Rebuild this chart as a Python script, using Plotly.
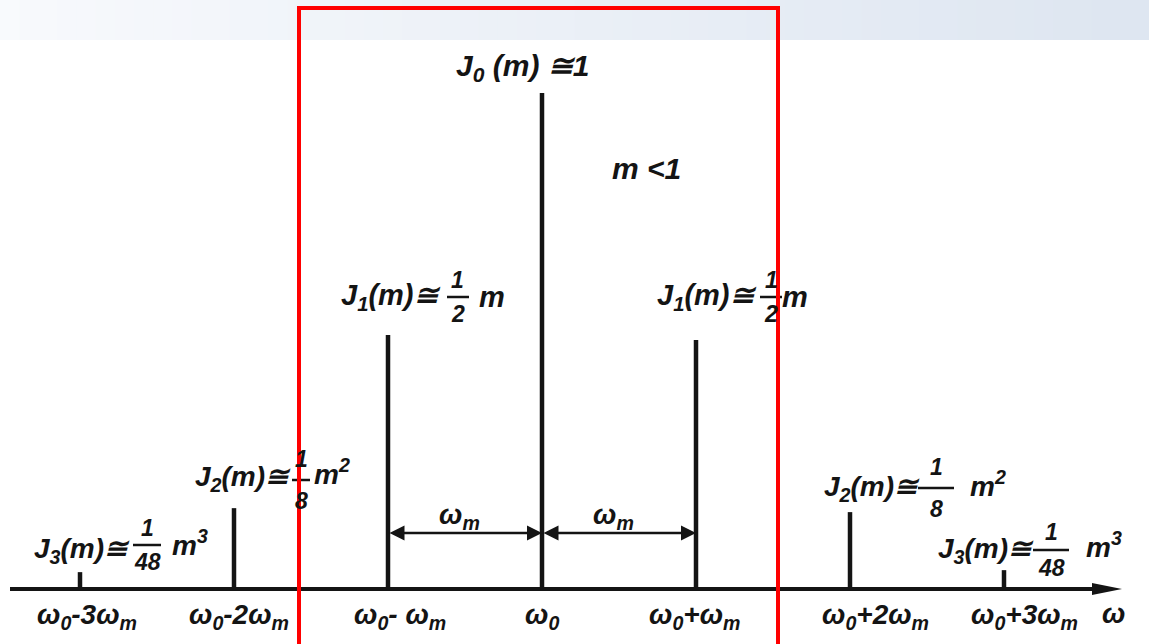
import plotly.graph_objects as go

# spectrum of narrow-band FM (m < 1): harmonic index k -> amplitude relative to J0
harmonic = [-3, -2, -1, 0, 1, 2, 3]
amplitude = [0.034, 0.163, 0.512, 1.0, 0.502, 0.155, 0.038]
tick_text = ["ω<sub>0</sub>-3ω<sub>m</sub>", "ω<sub>0</sub>-2ω<sub>m</sub>", "ω<sub>0</sub>- ω<sub>m</sub>",
             "ω<sub>0</sub>", "ω<sub>0</sub>+ω<sub>m</sub>", "ω<sub>0</sub>+2ω<sub>m</sub>",
             "ω<sub>0</sub>+3ω<sub>m</sub>"]
tick_shift = [7, 5, 12, 0, -1, 25, 20]

W, H = 1149, 644
X0, DX = 542, 154      # pixel of omega_0 and pixel spacing of omega_m
Y0, DY = 589, 496      # pixel of baseline and pixel height of J0
INK = "#141414"
FONT = "Liberation Sans"


def px(x):
    return x / W


def py(y):
    return 1 - y / H


fig = go.Figure()

xs, ys = [], []
for k, a in zip(harmonic, amplitude):
    xs += [k, k, None]
    ys += [0, a, None]
fig.add_trace(go.Scatter(x=xs, y=ys, mode="lines", line=dict(color=INK, width=4.5),
                         hoverinfo="skip", showlegend=False))

shapes = []
# light slide header band
n = 60
for i in range(n):
    t = i / (n - 1)
    c = tuple(int(a + (b - a) * t) for a, b in zip((248, 250, 253), (222, 230, 241)))
    shapes.append(dict(type="rect", xref="paper", yref="paper", x0=i / n, x1=(i + 1) / n + 0.001,
                       y0=py(40), y1=1, fillcolor="rgb(%d,%d,%d)" % c, line_width=0, layer="below"))

# frequency axis with arrow
shapes.append(dict(type="line", xref="paper", yref="paper", x0=px(10), x1=px(1100),
                   y0=py(Y0), y1=py(Y0), line=dict(color=INK, width=4)))
shapes.append(dict(type="path", xref="paper", yref="paper",
                   path="M %f %f L %f %f L %f %f Z" % (px(1092), py(Y0 - 6), px(1122), py(Y0), px(1092), py(Y0 + 6)),
                   fillcolor=INK, line_width=0))

annotations = []


def text(x, y, s, size=28, anchor="center"):
    annotations.append(dict(xref="paper", yref="paper", x=px(x), y=py(y), text="<b><i>%s</i></b>" % s,
                            showarrow=False, xanchor=anchor, yanchor="middle",
                            font=dict(family=FONT, size=size, color=INK)))


def frac(x, y, num, den, w, gap=17, size=23):
    text(x, y - gap, num, size)
    text(x, y + gap, den, size)
    shapes.append(dict(type="line", xref="paper", yref="paper", x0=px(x - w / 2), x1=px(x + w / 2),
                       y0=py(y), y1=py(y), line=dict(color=INK, width=2.5)))


# tick labels under the lines
for k, s, sh in zip(harmonic, tick_text, tick_shift):
    text(X0 + k * DX + sh, 616, s, 28)
text(1113, 613, "ω", 28)

# Bessel labels
text(522, 67, "J<sub>0</sub> (m) ≅1", 30)
text(646, 168, "m &lt;1", 30)

text(443, 297, "J<sub>1</sub>(m)≅", 29, "right")
frac(458, 297, "1", "2", 22)
text(477, 297, "m", 29, "left")
text(759, 297, "J<sub>1</sub>(m)≅", 29, "right")
frac(771, 297, "1", "2", 22)
text(780, 297, "m", 29, "left")

text(293, 478, "J<sub>2</sub>(m)≅", 28, "right")
frac(301, 480, "1", "8", 18, 21)
text(312, 472, "m<sup>2</sup>", 28, "left")
text(922, 488, "J<sub>2</sub>(m)≅", 28, "right")
frac(936, 488, "1", "8", 36, 21)
text(968, 484, "m<sup>2</sup>", 28, "left")

text(132, 550, "J<sub>3</sub>(m)≅", 28, "right")
frac(147, 545, "1", "48", 28, 17)
text(170, 543, "m<sup>3</sup>", 28, "left")
text(1036, 550, "J<sub>3</sub>(m)≅", 28, "right")
frac(1051, 550, "1", "48", 36, 18)
text(1084, 545, "m<sup>3</sup>", 28, "left")

# omega_m spacing arrows
ya = (Y0 - 533) / DY
for a, b in [(-1, 0), (0, 1)]:
    annotations.append(dict(x=b, y=ya, ax=a, ay=ya, xref="x", yref="y", axref="x", ayref="y",
                            showarrow=True, arrowside="end+start", arrowhead=2, arrowsize=1.2,
                            arrowwidth=2.5, arrowcolor=INK, text=""))
    text(X0 + (a + b) / 2 * DX - 6, 516, "ω<sub>m</sub>", 28)

# red highlight frame
shapes.append(dict(type="rect", xref="paper", yref="paper", x0=px(299), x1=px(778),
                   y0=py(660), y1=py(8), line=dict(color="#ff0000", width=4), fillcolor="rgba(0,0,0,0)"))

fig.update_layout(
    width=W, height=H, margin=dict(l=0, r=0, t=0, b=0),
    paper_bgcolor="white", plot_bgcolor="white",
    xaxis=dict(range=[-X0 / DX, (W - X0) / DX], visible=False, fixedrange=True),
    yaxis=dict(range=[(Y0 - H) / DY, Y0 / DY], visible=False, fixedrange=True),
    shapes=shapes, annotations=annotations, showlegend=False,
)

fig.write_html("out.html", config={"displayModeBar": False},
               post_script="document.body.style.margin='0';document.body.style.overflow='hidden';")
